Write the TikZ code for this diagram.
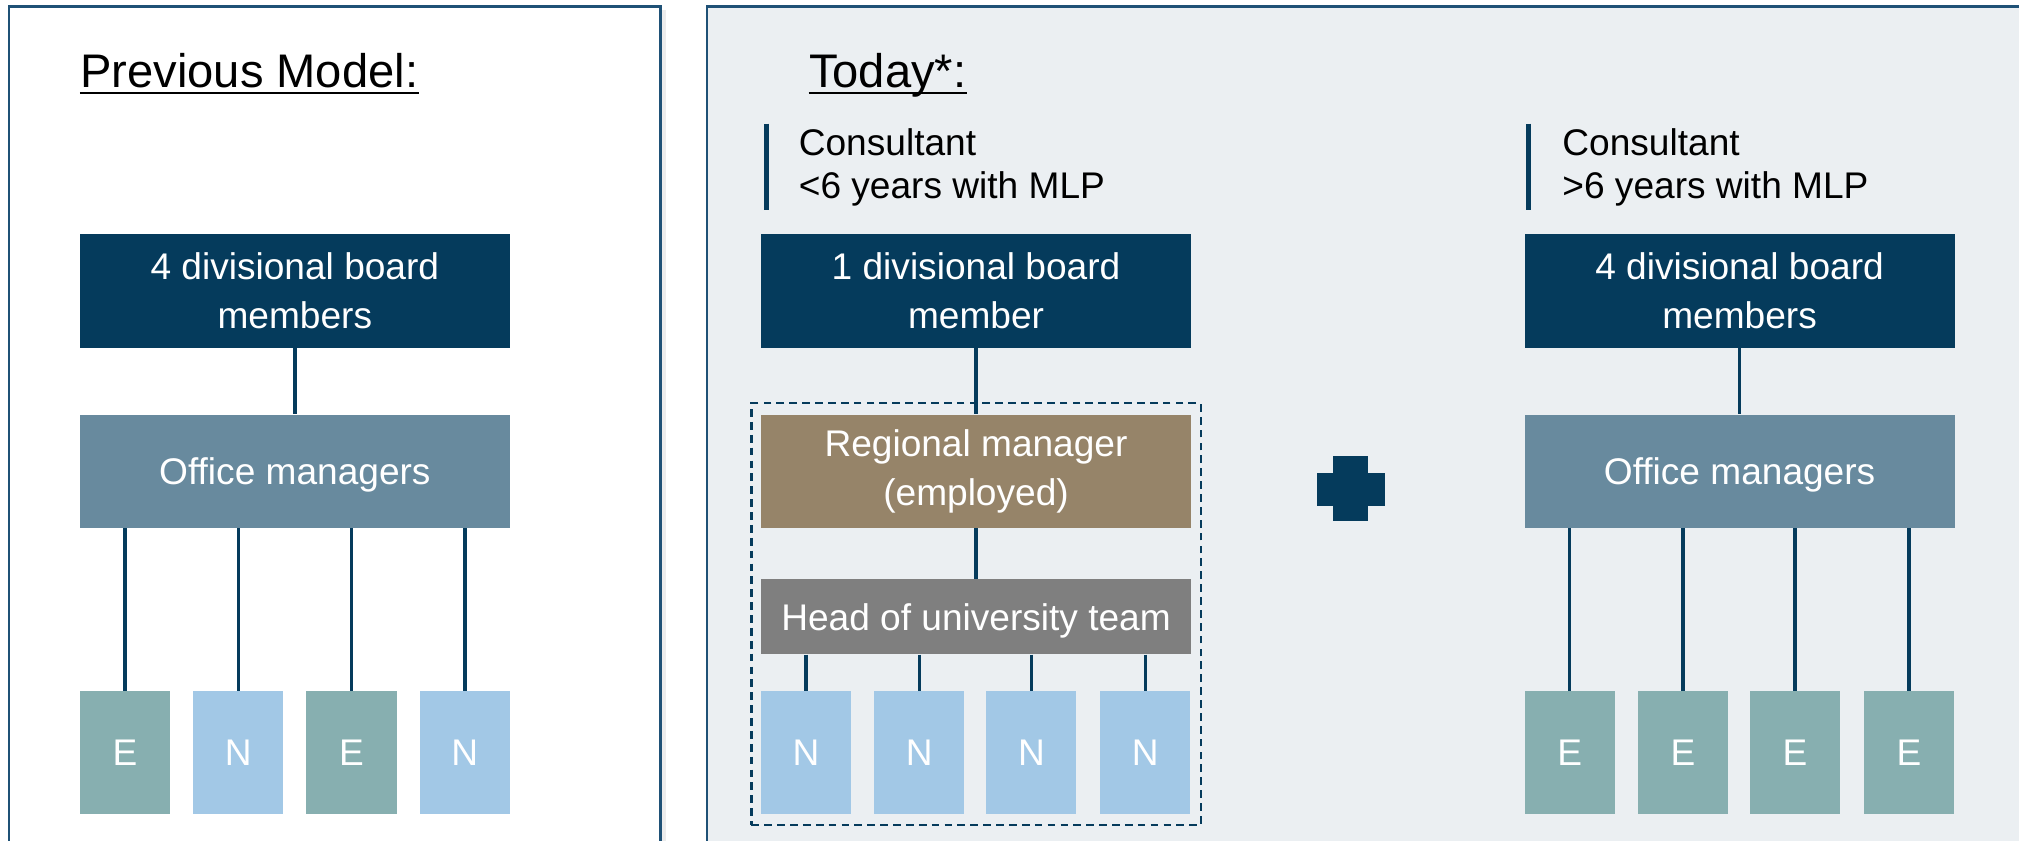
\documentclass[tikz,border=0pt]{standalone}
\usepackage{fontspec}
\setmainfont{Liberation Sans}
\usetikzlibrary{fit,shadows}
\definecolor{boardblue}{HTML}{053B5C}
\definecolor{officeblue}{HTML}{688A9E}
\definecolor{rmbrown}{HTML}{968469}
\definecolor{headgray}{HTML}{7F7F7F}
\definecolor{egreen}{HTML}{87AFB0}
\definecolor{nblue}{HTML}{A2C8E6}
\definecolor{panelblue}{HTML}{1F5176}
\definecolor{panelgray}{HTML}{EBEFF2}
\begin{document}
\begin{tikzpicture}[x=0.5pt,y=-0.5pt,
    textbox/.style={inner sep=0pt, text=white, align=center,
      font=\fontsize{14.4}{19}\selectfont, minimum width=167pt, minimum height=44pt},
    oneline/.style={text height=10.3pt, text depth=0pt},
    boardbox/.style={textbox, fill=boardblue},
    officebox/.style={textbox, oneline, fill=officeblue},
    rmbox/.style={textbox, fill=rmbrown},
    headbox/.style={textbox, oneline, fill=headgray, minimum height=29pt},
    unitbox/.style={textbox, oneline, minimum width=35pt, minimum height=47.5pt},
    ebox/.style={unitbox, fill=egreen},
    nbox/.style={unitbox, fill=nblue},
    link/.style={draw=boardblue, line width=1.3pt},
    panelbox/.style={draw=panelblue, line width=1pt,
      drop shadow={opacity=0.15, shadow xshift=2pt, shadow yshift=-1.5pt}},
    titletext/.style={anchor=base west, inner sep=0pt, font=\fontsize{18.3}{22}\selectfont},
    titleline/.style={draw=black, line width=0.8pt},
    notetext/.style={anchor=west, inner sep=0pt, align=left, font=\fontsize{14.4}{17}\selectfont},
    notebar/.style={draw=boardblue, line width=2pt},
    dashbox/.style={draw=boardblue, line width=0.8pt, dash pattern=on 3pt off 2pt,
      inner xsep=3.5pt, inner ysep=4.25pt}]
  \useasboundingbox (0,0) rectangle (1568,652.4);
  \clip (0,0) rectangle (1568,652.4);
  % panels
  \draw[panelbox, fill=white] (7,5) rectangle (513,720);
  \draw[panelbox, fill=panelgray] (549,5) rectangle (1620,720);
  % previous model
  \node[titletext] (tL) at (62,68) {Previous Model:};
  \draw[titleline] ([yshift=-2.2pt]tL.base west) -- ([yshift=-2.2pt]tL.base east);
  \node[boardbox] (bL) at (229,226) {4 divisional board\\members};
  \node[officebox] (omL) at (229,366) {Office managers};
  \node[ebox] (eL1) at (97,584.5) {E};
  \node[nbox] (eL2) at (185,584.5) {N};
  \node[ebox] (eL3) at (273,584.5) {E};
  \node[nbox] (eL4) at (361,584.5) {N};
  % today, younger consultants
  \node[titletext] (tM) at (628,68) {Today*:};
  \draw[titleline] ([yshift=-2.2pt]tM.base west) -- ([yshift=-2.2pt]tM.base east);
  \draw[notebar] (595,96) -- (595,163);
  \node[notetext] (cM) at (620,130) {Consultant\\<6 years with MLP};
  \node[boardbox] (bM) at (758,226) {1 divisional board\\member};
  \node[rmbox] (rm) at (758,366) {Regional manager\\(employed)};
  \node[headbox] (hd) at (758,479) {Head of university team};
  \node[nbox] (nM1) at (626,584.5) {N};
  \node[nbox] (nM2) at (714,584.5) {N};
  \node[nbox] (nM3) at (801,584.5) {N};
  \node[nbox] (nM4) at (889.5,584.5) {N};
  \node[dashbox, fit=(rm)(nM1)(nM4)] (team) {};
  % plus
  \fill[boardblue] (1035.5,354) rectangle (1062.5,405);
  \fill[boardblue] (1022.5,367) rectangle (1075.5,393);
  % today, senior consultants
  \draw[notebar] (1187,96) -- (1187,163);
  \node[notetext] (cR) at (1213,130) {Consultant\\>6 years with MLP};
  \node[boardbox] (bR) at (1351,226) {4 divisional board\\members};
  \node[officebox] (omR) at (1351,366) {Office managers};
  \node[ebox] (eR1) at (1219,584.5) {E};
  \node[ebox] (eR2) at (1307,584.5) {E};
  \node[ebox] (eR3) at (1394,584.5) {E};
  \node[ebox] (eR4) at (1482.5,584.5) {E};
  \begin{scope}[link]
    \draw (bL) to (omL);
    \draw (omL.south -| eL1) to (eL1);
    \draw (omL.south -| eL2) to (eL2);
    \draw (omL.south -| eL3) to (eL3);
    \draw (omL.south -| eL4) to (eL4);
    \draw (bM) to (rm);
    \draw (rm) to (hd);
    \draw (hd.south -| nM1) to (nM1);
    \draw (hd.south -| nM2) to (nM2);
    \draw (hd.south -| nM3) to (nM3);
    \draw (hd.south -| nM4) to (nM4);
    \draw (bR) to (omR);
    \draw (omR.south -| eR1) to (eR1);
    \draw (omR.south -| eR2) to (eR2);
    \draw (omR.south -| eR3) to (eR3);
    \draw (omR.south -| eR4) to (eR4);
  \end{scope}
\end{tikzpicture}
\end{document}
